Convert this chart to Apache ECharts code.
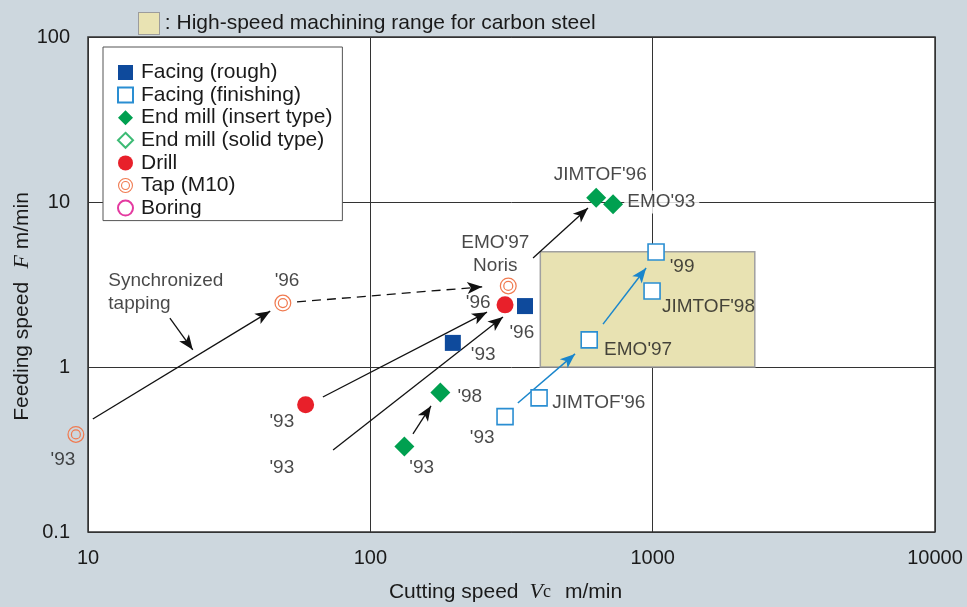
<!DOCTYPE html>
<html><head><meta charset="utf-8">
<script src="https://cdn.jsdelivr.net/npm/echarts@6/dist/echarts.min.js"></script>
<style>html,body{margin:0;padding:0;background:#cdd7de;} #c{width:967px;height:607px;}</style>
</head><body><div id="c"></div>
<script>
const FONT = '"Liberation Sans", Arial, Helvetica, sans-serif';
const SERIF = '"Liberation Serif", "DejaVu Serif", serif';

// ---- data (Cutting speed m/min, Feeding speed m/min) ----
const facingRough = [[196, 1.40], [353, 2.34]];
const facingFinishing = [[300, 0.50], [396, 0.65], [596, 1.46], [995, 2.89], [1028, 4.98]];
const endMillInsert = [[132, 0.33], [177, 0.70], [631, 10.6], [724, 9.7]];
const endMillSolid = [];
const drill = [[59, 0.59], [300, 2.38]];
const tap = [[9.06, 0.39], [49, 2.44], [308, 3.10]];
const boring = [];

// high-speed machining range for carbon steel
const rangeX = [400, 2300];
const rangeY = [1, 5];

// arrows: [from, to]
const arrowsSolid = [
  [[10.4, 0.484], [44.2, 2.18]],
  [[19.5, 1.98], [23.5, 1.27]],
  [[67.9, 0.658], [259, 2.15]],
  [[73.8, 0.314], [295, 2.01]],
  [[377, 4.58], [590, 9.2]],
  [[141.6, 0.393], [164, 0.581]]
];
const arrowsDashed = [[[55, 2.48], [249, 3.06]]];
const arrowsBlue = [
  [[333, 0.605], [531, 1.20]],
  [[667, 1.82], [948, 3.98]]
];

// annotation labels
const labelText = ["'93", "Synchronized\ntapping", "'96", "'93", "'93", "'96", "'96", "'93",
  "EMO'97\nNoris", "JIMTOF'96", "EMO'93", "'99", "JIMTOF'98", "EMO'97", "JIMTOF'96", "'93", "'98", "'93"];
const labelX = [8.15, 11.8, 50.7, 48.6, 48.6, 241, 344, 251, 277, 652, 793, 1271, 1079, 673, 441, 249, 225, 152];
const labelY = [0.275, 2.85, 3.32, 0.465, 0.244, 2.44, 1.61, 1.18, 4.84, 14.6, 10, 4.03, 2.31, 1.28, 0.605, 0.371, 0.658, 0.244];
const labelAlign = ['center', 'left', 'center', 'center', 'center', 'center', 'center', 'center',
  'center', 'center', 'left', 'center', 'left', 'left', 'left', 'center', 'center', 'center'];

const xTickLabels = ['10', '100', '1000', '10000'];
const yTickLabels = ['0.1', '1', '10', '100'];

const legendNames = ['Facing (rough)', 'Facing (finishing)', 'End mill (insert type)', 'End mill (solid type)', 'Drill', 'Tap (M10)', 'Boring'];

const C_BLUE = '#0e4a9c', C_LBLUE = '#2a8ed2', C_GREEN = '#00a050', C_LGREEN = '#3dbb75',
      C_RED = '#e8202a', C_ORANGE = '#f07a50', C_MAG = '#e43aa0';
const TXT = '#1a1a1a';

const TAP_PATH = 'path://M1,12 A11,11 0 1,1 23,12 A11,11 0 1,1 1,12 Z ' +
  'M2.6,12 A9.4,9.4 0 1,0 21.4,12 A9.4,9.4 0 1,0 2.6,12 Z ' +
  'M5.4,12 A6.6,6.6 0 1,1 18.6,12 A6.6,6.6 0 1,1 5.4,12 Z ' +
  'M7,12 A5,5 0 1,0 17,12 A5,5 0 1,0 7,12 Z';

function arrowData(list) {
  return list.map(p => [{ coord: p[0] }, { coord: p[1] }]);
}

const chart = echarts.init(document.getElementById('c'), null, { renderer: 'canvas' });

const option = {
  backgroundColor: '#cdd7de',
  animation: false,
  textStyle: { fontFamily: FONT },
  title: {
    text: '{box|}{t| : High-speed machining range for carbon steel}',
    left: 134, top: 8,
    textStyle: {
      rich: {
        box: { width: 20, height: 21, backgroundColor: '#e9e3b3', borderColor: '#9c9c9c', borderWidth: 1 },
        t: { fontSize: 21, color: TXT, fontFamily: FONT, fontWeight: 'normal' }
      }
    }
  },
  legend: {
    data: legendNames,
    orient: 'vertical',
    left: 103, top: 47,
    padding: [15, 10, 2, 14],
    backgroundColor: '#fff',
    borderColor: '#555',
    borderWidth: 1,
    itemWidth: 15, itemHeight: 15,
    itemGap: 1.6,
    selectedMode: false,
    textStyle: { fontSize: 21, color: TXT, fontFamily: FONT, padding: [0, 0, 0, 3], lineHeight: 19 }
  },
  grid: {
    left: 88, right: 32, top: 37, bottom: 75,
    outerBoundsMode: 'none', containLabel: false,
    show: true, backgroundColor: '#fff', borderColor: '#333', borderWidth: 1.5
  },
  xAxis: {
    type: 'log', logBase: 10, min: 10, max: 10000,
    name: '{a|Cutting speed}{sp1|}{i|V}{s|c}{sp2|}{a|m/min}{g|}',
    nameLocation: 'middle', nameGap: 49,
    nameTextStyle: {
      rich: {
        a: { fontSize: 21, color: TXT, fontFamily: FONT },
        i: { fontSize: 22, color: TXT, fontFamily: SERIF, fontStyle: 'italic' },
        s: { fontSize: 18, color: TXT, fontFamily: SERIF },
        sp1: { width: 11 },
        sp2: { width: 14 },
        g: { width: 12 }
      }
    },
    axisLine: { show: false },
    axisTick: { show: false },
    minorTick: { show: false },
    axisLabel: {
      fontSize: 20, color: TXT, margin: 16,
      formatter: v => xTickLabels[Math.round(Math.log10(v)) - 1]
    },
    splitLine: { show: true, lineStyle: { color: '#333', width: 1 } }
  },
  yAxis: {
    type: 'log', logBase: 10, min: 0.1, max: 100,
    name: '{a|Feeding speed}    {i|F}{a| m/min}{g|}',
    nameLocation: 'middle', nameGap: 55, nameMoveOverlap: false,
    nameTextStyle: {
      rich: {
        a: { fontSize: 21, color: TXT, fontFamily: FONT },
        i: { fontSize: 22, color: TXT, fontFamily: SERIF, fontStyle: 'italic' },
        g: { width: 44 }
      }
    },
    axisLine: { show: false },
    axisTick: { show: false },
    minorTick: { show: false },
    axisLabel: {
      fontSize: 20, color: TXT, margin: 18,
      formatter: v => yTickLabels[Math.round(Math.log10(v)) + 1]
    },
    splitLine: { show: true, lineStyle: { color: '#333', width: 1 } }
  },
  series: [
    {
      name: 'range', type: 'scatter', data: [], z: 1, silent: true,
      markArea: {
        silent: true,
        itemStyle: { color: '#e8e2b2', borderColor: '#a0a0a0', borderWidth: 1.5 },
        data: [[{ coord: [rangeX[0], rangeY[1]] }, { coord: [rangeX[1], rangeY[0]] }]]
      }
    },
    {
      name: 'arrows', type: 'scatter', data: [], z: 4, silent: true,
      markLine: {
        silent: true, animation: false,
        symbol: ['none', 'arrow'], symbolSize: [9, 15],
        label: { show: false },
        lineStyle: { color: '#111', width: 1.3, type: 'solid' },
        emphasis: { disabled: true },
        data: arrowData(arrowsSolid)
      }
    },
    {
      name: 'arrowsDashed', type: 'scatter', data: [], z: 4, silent: true,
      markLine: {
        silent: true, animation: false,
        symbol: ['none', 'arrow'], symbolSize: [9, 15],
        label: { show: false },
        lineStyle: { color: '#111', width: 1.3, type: [9, 6] },
        emphasis: { disabled: true },
        data: arrowData(arrowsDashed)
      }
    },
    {
      name: 'arrowsBlue', type: 'scatter', data: [], z: 4, silent: true,
      markLine: {
        silent: true, animation: false,
        symbol: ['none', 'arrow'], symbolSize: [9, 15],
        label: { show: false },
        lineStyle: { color: '#1a86cc', width: 1.5, type: 'solid' },
        emphasis: { disabled: true },
        data: arrowData(arrowsBlue)
      }
    },
    {
      name: 'Facing (rough)', type: 'scatter', z: 5, clip: false, symbol: 'rect', symbolSize: 16,
      itemStyle: { color: C_BLUE, opacity: 1 }, data: facingRough
    },
    {
      name: 'Facing (finishing)', type: 'scatter', z: 5, clip: false, symbol: 'rect', symbolSize: 16,
      itemStyle: { color: '#fff', borderColor: C_LBLUE, borderWidth: 1.6, opacity: 1 }, data: facingFinishing
    },
    {
      name: 'End mill (insert type)', type: 'scatter', z: 5, clip: false, symbol: 'diamond', symbolSize: 20,
      itemStyle: { color: C_GREEN, opacity: 1 }, data: endMillInsert
    },
    {
      name: 'End mill (solid type)', type: 'scatter', z: 5, clip: false, symbol: 'diamond', symbolSize: 20,
      itemStyle: { color: '#fff', borderColor: C_LGREEN, borderWidth: 1.2, opacity: 1 }, data: endMillSolid
    },
    {
      name: 'Drill', type: 'scatter', z: 5, clip: false, symbol: 'circle', symbolSize: 17,
      itemStyle: { color: C_RED, opacity: 1 }, data: drill
    },
    {
      name: 'Tap (M10)', type: 'scatter', z: 5, clip: false, symbol: TAP_PATH, symbolSize: 17,
      itemStyle: { color: C_ORANGE, opacity: 1 }, data: tap
    },
    {
      name: 'Boring', type: 'scatter', z: 5, clip: false, symbol: 'circle', symbolSize: 16,
      itemStyle: { color: '#fff', borderColor: C_MAG, borderWidth: 1.2, opacity: 1 }, data: boring
    },
    {
      name: 'labels', type: 'scatter', z: 6, clip: false, silent: true, symbolSize: 1,
      itemStyle: { color: 'rgba(0,0,0,0)' },
      label: {
        show: true, position: 'inside', fontSize: 19, color: TXT, fontFamily: FONT, lineHeight: 23,
        formatter: p => labelText[p.dataIndex]
      },
      data: labelX.map((x, i) => {
        const d = { value: [x, labelY[i]], label: { align: labelAlign[i] } };
        if (labelText[i] === "EMO'93") {
          d.label.backgroundColor = '#fff';
          d.label.padding = [0, 4, 0, 3];
        }
        return d;
      })
    }
  ]
};
chart.setOption(option);
</script>
</body></html>
